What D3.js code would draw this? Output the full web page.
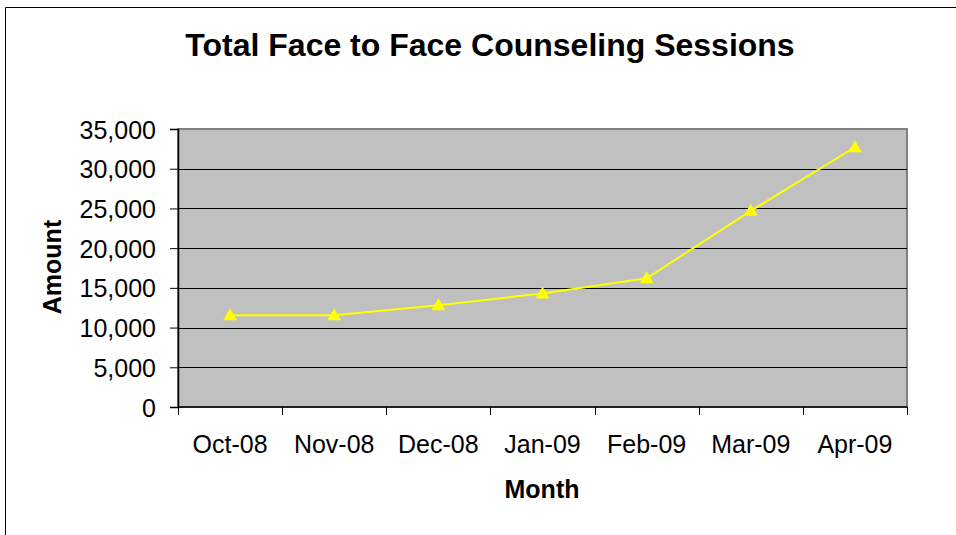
<!DOCTYPE html>
<html>
<head>
<meta charset="utf-8">
<script src="https://cdn.jsdelivr.net/npm/d3@7"></script>
<style>
  body { margin: 0; background: #fff; }
  svg { display: block; font-family: "Liberation Sans", Arial, sans-serif; }
</style>
</head>
<body>
<div id="chart"></div>
<script>
// chart data
const months = ['Oct-08', 'Nov-08', 'Dec-08', 'Jan-09', 'Feb-09', 'Mar-09', 'Apr-09'];
const sessions = [11550, 11550, 12800, 14300, 16200, 24700, 32700];
const yTicks = [0, 5000, 10000, 15000, 20000, 25000, 30000, 35000];

const width = 956;
const height = 535;
const margin = {top: 129, right: 49, bottom: 128, left: 178};
const innerWidth = width - margin.left - margin.right;
const innerHeight = height - margin.top - margin.bottom;

const svg = d3.select('#chart')
  .append('svg')
    .attr('width', width)
    .attr('height', height);

// outer chart border: only the left and top edges fall inside the picture
svg.append('path')
    .attr('d', `M5.5,${height}V7.5H${width}`)
    .attr('fill', 'none')
    .attr('stroke', '#000')
    .attr('stroke-width', 1);

svg.append('text')
    .attr('x', 490)
    .attr('y', 56)
    .attr('text-anchor', 'middle')
    .attr('font-size', 32)
    .attr('font-weight', 'bold')
    .text('Total Face to Face Counseling Sessions');

const g = svg.append('g')
    .attr('transform', `translate(${margin.left},${margin.top})`);

const x = d3.scaleBand()
    .domain(months)
    .range([0, innerWidth]);

const y = d3.scaleLinear()
    .domain([0, 35000])
    .range([innerHeight, 0]);

// plot area
g.append('rect')
    .attr('width', innerWidth)
    .attr('height', innerHeight)
    .attr('fill', '#c0c0c0')
    .attr('stroke', '#808080')
    .attr('stroke-width', 2);

// gridlines
g.append('g')
  .selectAll('line')
  .data(yTicks.slice(1, -1))
  .join('line')
    .attr('x1', 0)
    .attr('x2', innerWidth)
    .attr('y1', d => Math.round(y(d)) + 0.5)
    .attr('y2', d => Math.round(y(d)) + 0.5)
    .attr('stroke', '#000')
    .attr('stroke-width', 1);

// y axis
const yAxis = g.append('g')
    .call(d3.axisLeft(y)
      .tickValues(yTicks)
      .tickSize(8)
      .tickPadding(14)
      .tickFormat(d3.format(',')));

yAxis.select('.domain').attr('stroke', '#000').attr('stroke-width', 1.5);
yAxis.selectAll('text')
    .attr('font-size', 25)
    .attr('dy', '0.36em')
    .attr('fill', '#000')
    .attr('font-family', '"Liberation Sans", Arial, sans-serif');

// x axis: ticks sit on the band boundaries
const xAxis = g.append('g')
    .attr('transform', `translate(0,${innerHeight})`);

xAxis.append('line')
    .attr('x1', 0)
    .attr('x2', innerWidth)
    .attr('stroke', '#000')
    .attr('stroke-width', 1.5);

xAxis.selectAll('.tick-mark')
  .data(d3.range(months.length + 1))
  .join('line')
    .attr('class', 'tick-mark')
    .attr('x1', i => Math.round(i * x.bandwidth()) + 0.5)
    .attr('x2', i => Math.round(i * x.bandwidth()) + 0.5)
    .attr('y1', 0)
    .attr('y2', 8)
    .attr('stroke', '#000');

xAxis.selectAll('.tick-label')
  .data(months)
  .join('text')
    .attr('class', 'tick-label')
    .attr('x', d => x(d) + x.bandwidth() / 2)
    .attr('y', 46)
    .attr('text-anchor', 'middle')
    .attr('font-size', 25)
    .text(d => d);

// axis titles
svg.append('text')
    .attr('transform', 'translate(61,267) rotate(-90)')
    .attr('text-anchor', 'middle')
    .attr('font-size', 25)
    .attr('font-weight', 'bold')
    .text('Amount');

svg.append('text')
    .attr('x', 542)
    .attr('y', 498)
    .attr('text-anchor', 'middle')
    .attr('font-size', 25)
    .attr('font-weight', 'bold')
    .text('Month');

// series
const points = months.map((m, i) => ({month: m, value: sessions[i]}));

const line = d3.line()
    .x(d => x(d.month) + x.bandwidth() / 2)
    .y(d => y(d.value));

g.append('path')
    .datum(points)
    .attr('d', line)
    .attr('fill', 'none')
    .attr('stroke', '#ffff00')
    .attr('stroke-width', 2);

g.append('g')
  .selectAll('path')
  .data(points)
  .join('path')
    .attr('transform', d => `translate(${x(d.month) + x.bandwidth() / 2},${y(d.value)})`)
    .attr('d', 'M0,-7L7,5L-7,5Z')
    .attr('fill', '#ffff00');
</script>
</body>
</html>
